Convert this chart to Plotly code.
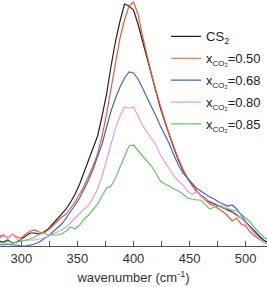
import plotly.graph_objects as go

wavenumber = [280, 284, 288, 292, 296, 300, 304, 308, 312, 316, 320, 324, 328, 332, 336, 340,
              344, 348, 352, 356, 360, 364, 368, 372, 376, 380, 384, 388, 392, 396, 400,
              404, 408, 412, 416, 420, 424, 428, 432, 436, 440, 444, 448, 452, 456, 460,
              464, 468, 472, 476, 480, 484, 488, 492, 496, 500, 504, 508, 512, 516, 520]

cs2 = [5, 4, 6, 3, 4, 7, 10, 13, 13, 12, 14, 17, 22, 27, 32, 37,
       44, 52, 62, 74, 86, 98, 110, 130, 152, 180, 205, 225, 242, 240, 236,
       222, 205, 188, 170, 153, 138, 124, 110, 98, 86, 76, 68, 61, 55, 51,
       47, 44, 42, 40, 38, 36, 34, 31, 28, 24, 19, 14, 10, 6, 3]

x050 = [9, 11, 8, 12, 9, 8, 12, 15, 16, 14, 13, 16, 20, 25, 29, 32,
        38, 44, 52, 60, 70, 80, 92, 110, 132, 158, 183, 208, 226, 240, 244,
        232, 210, 190, 172, 155, 139, 125, 111, 98, 87, 77, 68, 61, 55, 50,
        46, 42, 40, 37, 34, 30, 25, 28, 22, 20, 14, 10, 7, 4, 2]

x068 = [2, 1, 2, 1, 1, 0, 0, 1, 2, 4, 7, 10, 14, 18, 22, 28,
        34, 41, 48, 57, 66, 77, 89, 102, 119, 135, 148, 159, 168, 174, 173,
        167, 158, 149, 139, 130, 120, 111, 102, 91, 81, 73, 68, 63, 58, 55,
        52, 49, 47, 44, 42, 40, 41, 37, 31, 24, 18, 13, 8, 4, 2]

x080 = [7, 10, 8, 12, 7, 6, 5, 6, 6, 7, 8, 10, 12, 14, 16, 19,
        23, 28, 33, 37, 41, 48, 57, 70, 86, 102, 118, 130, 139, 138, 139,
        130, 121, 114, 107, 101, 91, 84, 77, 70, 65, 61, 55, 52, 54, 50,
        47, 45, 43, 41, 40, 38, 35, 32, 28, 23, 17, 12, 8, 4, 2]

x085 = [4, 3, 5, 3, 4, 5, 6, 7, 9, 12, 13, 11, 11, 11, 12, 15,
        19, 17, 21, 27, 31, 36, 42, 50, 58, 60, 68, 79, 90, 100, 101,
        95, 90, 85, 80, 73, 65, 62, 60, 57, 55, 52, 48, 47, 46, 46,
        42, 37, 39, 40, 38, 37, 36, 35, 32, 28, 24, 18, 13, 9, 6]

sub = '<sub><span style="font-size:8px">CO₂</span></sub>'
names = ['CS<sub><span style="font-size:9px">2</span></sub>',
         "x" + sub + "=0.50",
         "x" + sub + "=0.68",
         "x" + sub + "=0.80",
         "x" + sub + "=0.85"]
series = [cs2, x050, x068, x080, x085]
colors = ["#222222", "#f7553a", "#4466cc", "#dda0dd", "#66c466"]

fig = go.Figure()
for i, (nm, ys, c) in enumerate(zip(names, series, colors)):
    fig.add_trace(go.Scatter(x=wavenumber, y=ys, mode="lines", name=nm,
                             legendgroup="g%d" % i,
                             line=dict(color=c, width=1.2)))

fig.update_layout(
    width=267, height=287,
    margin=dict(l=0, r=0, t=0, b=41),
    paper_bgcolor="white", plot_bgcolor="white",
    font=dict(family="Arial, Liberation Sans, sans-serif", size=13, color="#333333"),
    showlegend=True,
    legend=dict(x=0.622, y=0.913, xanchor="left", yanchor="top",
                bgcolor="rgba(0,0,0,0)", font=dict(size=13, color="#222222"),
                tracegroupgap=2),
    xaxis=dict(range=[281, 519], tickvals=[300, 350, 400, 450, 500],
               ticks="inside", ticklen=5, tickcolor="#555555",
               showline=True, linecolor="#555555", linewidth=1,
               showgrid=False, zeroline=False,
               minor=dict(tickvals=[325, 375, 425, 475], ticks="inside",
                          ticklen=5, tickcolor="#555555"),
               tickfont=dict(size=13, color="#333333"),
               title=dict(text="wavenumber (cm<sup>-1</sup>)", standoff=8,
                          font=dict(size=13, color="#333333"))),
    yaxis=dict(range=[0, 246], visible=False),
)

fig.write_html("out.html")
